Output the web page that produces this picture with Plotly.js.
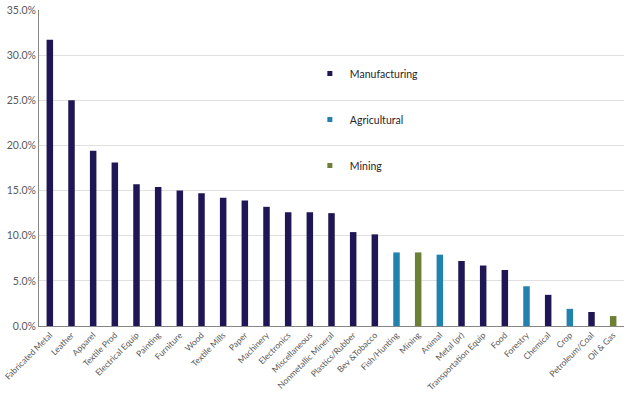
<!DOCTYPE html>
<html>
<head>
<meta charset="utf-8">
<script src="https://cdn.plot.ly/plotly-3.0.1.min.js"></script>
<style>html,body{margin:0;padding:0;background:#fff;}#chart{width:627px;height:394px;}</style>
</head>
<body>
<div id="chart"></div>
<script>
// Categories in display order
const categories = ["Fabricated Metal","Leather","Apparel","Textile Prod","Electrical Equip","Painting","Furniture","Wood","Textile Mills","Paper","Machinery","Electronics","Miscellaneous","Nonmetallic Mineral","Plastics/Rubber","Bev &Tobacco","Fish/Hunting","Mining","Animal","Metal (pr)","Transportation Equip","Food","Forestry","Chemical","Crop","Petroleum/Coal","Oil & Gas"];
// Values (%) per category
const values = [31.7,25.0,19.4,18.1,15.7,15.4,15.0,14.7,14.2,13.9,13.2,12.6,12.6,12.5,10.4,10.15,8.15,8.15,7.9,7.2,6.7,6.2,4.4,3.45,1.9,1.55,1.1];
// Sector of each category
const sectors = ["Manufacturing","Manufacturing","Manufacturing","Manufacturing","Manufacturing","Manufacturing","Manufacturing","Manufacturing","Manufacturing","Manufacturing","Manufacturing","Manufacturing","Manufacturing","Manufacturing","Manufacturing","Manufacturing","Agricultural","Mining","Agricultural","Manufacturing","Manufacturing","Manufacturing","Agricultural","Manufacturing","Agricultural","Manufacturing","Mining"];
const sectorNames = ["Manufacturing","Agricultural","Mining"];
const sectorColors = {"Manufacturing":"#1f1655","Agricultural":"#2183ad","Mining":"#6d7e35"};
const yTicks = [0,5,10,15,20,25,30,35];

const traces = [];
sectorNames.forEach(function(s){
  const xs=[], ys=[];
  categories.forEach(function(c,i){ if(sectors[i]===s){ xs.push(c); ys.push(values[i]); } });
  traces.push({type:'bar', x:xs, y:ys, name:s, width:0.3, marker:{color:sectorColors[s]}, showlegend:false, hoverinfo:'x+y'});
});
sectorNames.forEach(function(s,k){
  traces.push({type:'scatter', mode:'markers', x:[null], y:[null], name:s, legendgroup:'g'+k,
    marker:{symbol:'square', size:5, color:sectorColors[s]}, showlegend:true});
});

const layout = {
  width:627, height:394,
  margin:{l:39, r:3, t:10, b:68},
  paper_bgcolor:'#ffffff', plot_bgcolor:'#ffffff',
  font:{family:'Lato, "Liberation Sans", sans-serif', size:10, color:'#595959'},
  barmode:'overlay',
  showlegend:true,
  legend:{x:0.463, y:0.845, xanchor:'left', yanchor:'top', bgcolor:'rgba(0,0,0,0)',
    font:{size:10.5, color:'#262626'}, tracegroupgap:27, itemwidth:30},
  xaxis:{type:'category', categoryorder:'array', categoryarray:categories,
    tickangle:-45, tickfont:{size:8.5, color:'#595959'}, showline:true, linecolor:'#868686', linewidth:1,
    ticks:'', showgrid:false, automargin:false},
  yaxis:{range:[0,35], tickvals:yTicks, ticktext:yTicks.map(function(v){return v.toFixed(1)+'%';}),
    tickfont:{size:10.5, color:'#595959'}, showline:true, linecolor:'#868686', linewidth:1,
    gridcolor:'#e0e0e0', gridwidth:1, zeroline:false, ticks:'', automargin:false}
};
Plotly.newPlot('chart', traces, layout, {displayModeBar:false, staticPlot:true});
</script>
</body>
</html>
